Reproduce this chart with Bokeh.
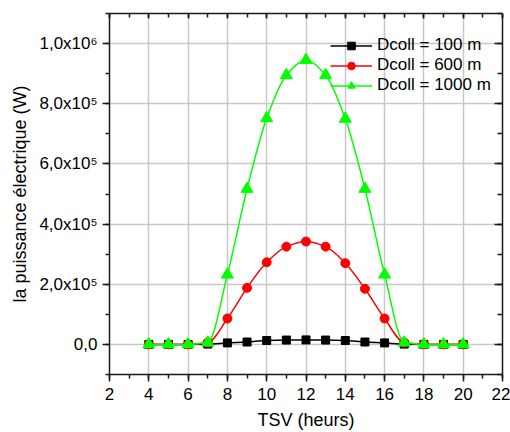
import numpy as np
from bokeh.plotting import figure
from bokeh.models import (Range1d, LinearAxis, SingleIntervalTicker, Legend,
                          LegendItem, ColumnDataSource)
from bokeh.embed import file_html
from bokeh.resources import INLINE

# ---- data ----
hours = [4, 5, 6, 7, 8, 9, 10, 11, 12, 13, 14, 15, 16, 17, 18, 19, 20]
p_100 = [0, 0, 0, 1000, 5000, 8000, 13000, 14500, 15000, 14500, 13000, 8000, 5000, 1000, 0, 0, 0]
p_600 = [0, 0, 0, 6000, 86000, 188000, 273000, 325000, 342000, 325000, 270000, 185000, 86000, 6000, 0, 0, 0]
p_1000 = [0, 0, 0, 6000, 232000, 517000, 752000, 895000, 945000, 895000, 750000, 517000, 232000, 6000, 0, 0, 0]
series_labels = ["Dcoll = 100 m", "Dcoll = 600 m", "Dcoll = 1000 m"]
y_tick_values = [0, 200000, 400000, 600000, 800000, 1000000]
y_tick_labels = ["0,0", "2,0x10\u2075", "4,0x10\u2075", "6,0x10\u2075", "8,0x10\u2075", "1,0x10\u2076"]
x_title = "TSV (heurs)"
y_title = "la puissance électrique (W)"

FONT = "Liberation Sans"
AX = "#1a1a1a"


def smooth_segments(xs, ys):
    """Cubic Bezier pieces between consecutive data points (monotone tangents)."""
    x = np.asarray(xs, float)
    y = np.asarray(ys, float)
    h = x[1:] - x[:-1]
    d = (y[1:] - y[:-1]) / h
    m = np.zeros(len(x))
    for i in range(1, len(x) - 1):
        if d[i - 1] * d[i] > 0:
            m[i] = 2.0 / (1.0 / d[i - 1] + 1.0 / d[i])
    m[0] = d[0]
    m[-1] = d[-1]
    return ColumnDataSource(dict(
        x0=x[:-1], y0=y[:-1], x1=x[1:], y1=y[1:],
        cx0=x[:-1] + h / 3, cy0=y[:-1] + m[:-1] * h / 3,
        cx1=x[1:] - h / 3, cy1=y[1:] - m[1:] * h / 3))


p = figure(width=510, height=432, output_backend="svg", toolbar_location=None,
           x_range=Range1d(2, 22), y_range=Range1d(-100000, 1100000),
           min_border_left=109, min_border_right=8, min_border_top=13,
           min_border_bottom=57)
p.outline_line_color = None
p.background_fill_color = "white"
p.border_fill_color = "white"

xt = SingleIntervalTicker(interval=2, num_minor_ticks=2)
yt = SingleIntervalTicker(interval=200000, num_minor_ticks=2)

for ax in (p.xaxis[0], p.yaxis[0]):
    ax.axis_line_color = AX
    ax.axis_line_width = 1.5
    ax.major_tick_line_color = AX
    ax.minor_tick_line_color = AX
    ax.major_tick_line_width = 1.5
    ax.minor_tick_line_width = 1.5
    ax.major_tick_in = 0
    ax.major_tick_out = 7
    ax.minor_tick_in = 0
    ax.minor_tick_out = 4
    ax.major_label_text_font = FONT
    ax.major_label_text_font_size = "17px"
    ax.major_label_text_color = "black"
    ax.axis_label_text_font = FONT
    ax.axis_label_text_font_size = "18px"
    ax.axis_label_text_font_style = "normal"
    ax.axis_label_text_color = "black"

p.xaxis[0].ticker = xt
p.yaxis[0].ticker = yt
p.xaxis[0].axis_label = x_title
p.yaxis[0].axis_label = y_title
p.xaxis[0].major_label_standoff = 6
p.xaxis[0].axis_label_standoff = 7
p.yaxis[0].major_label_standoff = 5
p.yaxis[0].axis_label_standoff = 6
p.yaxis[0].major_label_overrides = {v: s for v, s in zip(y_tick_values, y_tick_labels)}

for place, tick, maj_in, min_in in (("above", xt, 5, 4), ("right", yt, 8, 5)):
    ax = LinearAxis(ticker=tick)
    ax.axis_line_color = AX
    ax.axis_line_width = 1.5
    ax.major_tick_line_color = AX
    ax.minor_tick_line_color = AX
    ax.major_tick_line_width = 1.5
    ax.minor_tick_line_width = 1.5
    ax.major_tick_in = maj_in
    ax.major_tick_out = 0
    ax.minor_tick_in = min_in
    ax.minor_tick_out = 0
    ax.major_label_text_font_size = "0px"
    ax.major_label_text_alpha = 0
    ax.major_label_standoff = 0
    ax.axis_label_standoff = 0
    p.add_layout(ax, place)

p.xgrid.ticker = xt
p.ygrid.ticker = yt
p.grid.grid_line_color = "#c8c8c8"
p.grid.grid_line_width = 1.5

styles = [
    (p_100, "black", "square", 8),
    (p_600, "red", "circle", 9),
    (p_1000, "#00ff00", "triangle", 12),
]
items = []
for (vals, col, mk, sz), lab in zip(styles, series_labels):
    p.bezier(x0="x0", y0="y0", x1="x1", y1="y1", cx0="cx0", cy0="cy0",
             cx1="cx1", cy1="cy1", source=smooth_segments(hours, vals),
             line_color=col, line_width=1.5)
    # single-point line: draws nothing in the plot, only provides the legend stroke
    lr = p.line(x=hours[:1], y=vals[:1], line_color=col, line_width=1.5)
    sr = p.scatter(x=hours, y=vals, marker=mk, size=sz, fill_color=col,
                   line_color=col, line_width=1)
    items.append(LegendItem(label=lab, renderers=[lr, sr]))

legend = Legend(items=items, location=(221, 279))
legend.background_fill_alpha = 0
legend.border_line_alpha = 0
legend.padding = 0
legend.spacing = 0
legend.margin = 0
legend.label_text_font = FONT
legend.label_text_font_size = "17px"
legend.label_text_color = "black"
legend.glyph_width = 42
legend.glyph_height = 19
legend.label_height = 19
legend.label_standoff = 5
p.add_layout(legend)

open("out.html", "w").write(file_html(p, INLINE))
